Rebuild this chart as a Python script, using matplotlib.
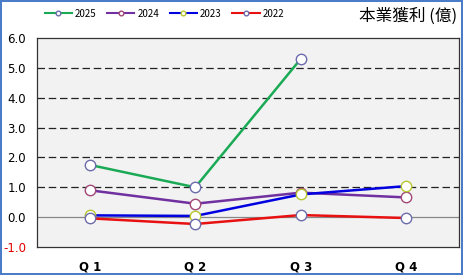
import matplotlib.pyplot as plt
import numpy as np

plt.rcParams['font.family'] = ['Noto Sans CJK TC', 'DejaVu Sans']

quarters = ["Q 1", "Q 2", "Q 3", "Q 4"]
years = ["2025", "2024", "2023", "2022"]
profit_2025 = [1.75, 1.0, 5.3, np.nan]
profit_2024 = [0.9, 0.45, 0.82, 0.66]
profit_2023 = [0.06, 0.04, 0.76, 1.04]
profit_2022 = [-0.04, -0.23, 0.07, -0.03]
y_ticks = [-1.0, 0.0, 1.0, 2.0, 3.0, 4.0, 5.0, 6.0]

series = [profit_2025, profit_2024, profit_2023, profit_2022]
line_colors = ["#1aaa55", "#7030a0", "#0000e0", "#e81010"]
marker_edges = ["#6c6cac", "#a04878", "#b8c830", "#6c6cac"]

fig = plt.figure(figsize=(4.63, 2.75), dpi=100)
fig.patch.set_edgecolor("#4a7cc8")
fig.patch.set_linewidth(1.5)
ax = fig.add_axes([37 / 463, 28 / 275, 422 / 463, 209 / 275])
ax.set_facecolor("#f2f2f2")

x = np.arange(len(quarters))
ax.set_xlim(-0.5, 3.5)
ax.set_ylim(-1.0, 6.0)

for v in [1, 2, 3, 4, 5]:
    ax.axhline(v, color="#222222", lw=0.9, ls=(0, (6, 3)), zorder=1)
ax.axhline(0, color="#888888", lw=0.9, zorder=1)

for i, (vals, lc, me, yr) in enumerate(zip(series, line_colors, marker_edges, years)):
    ax.plot(x, vals, color=lc, lw=1.8, marker="o", ms=7.5, mfc="white",
            mec=me, mew=1.0, zorder=3 + i, label=yr)

ax.set_xticks(x)
ax.set_xticklabels(quarters, fontsize=8.5, fontweight="bold", family="DejaVu Sans")
ax.set_yticks(y_ticks)
ax.set_yticklabels([f"{v:.1f}" for v in y_ticks], fontsize=8.5, family="DejaVu Sans")
ax.get_yticklabels()[0].set_color("#e00000")
ax.tick_params(length=0, pad=8)
ax.tick_params(axis="x", pad=10)
for s in ax.spines.values():
    s.set_color("#333333")
    s.set_linewidth(0.9)

leg = fig.legend(loc="upper left", ncol=4,
                 bbox_to_anchor=(36 / 463, 1.0), frameon=False,
                 fontsize=7, handlelength=2.8, columnspacing=1.1,
                 handletextpad=0.3, markerscale=0.45)
for h in leg.legend_handles:
    h.set_linewidth(1.5)

fig.text(457 / 463, 1 - 16 / 275, "本業獲利 (億)", ha="right", va="center",
         fontsize=12, fontweight="medium")

fig.savefig("out.png", dpi=100)
